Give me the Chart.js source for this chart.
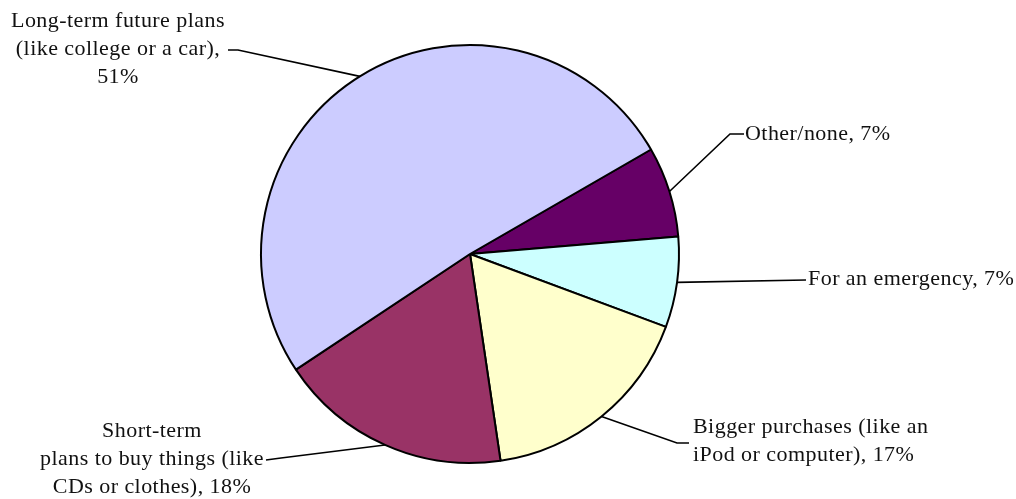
<!DOCTYPE html>
<html>
<head>
<meta charset="utf-8">
<script src="https://cdn.jsdelivr.net/npm/chart.js@4/dist/chart.umd.min.js"></script>
<style>
  html, body { margin: 0; padding: 0; background: #fff; }
  #wrap { width: 1016px; height: 499px; }
</style>
</head>
<body>
<div id="wrap"><canvas id="myChart" width="1016" height="499"></canvas></div>
<script>
// data, clockwise from the Other/none slice
const categories = [
  'Other/none',
  'For an emergency',
  'Bigger purchases (like an\niPod or computer)',
  'Short-term\nplans to buy things (like\nCDs or clothes)',
  'Long-term future plans\n(like college or a car)'
];
const values = [7, 7, 17, 18, 51];
const colors = ['#660066', '#CCFFFF', '#FFFFCC', '#993366', '#CCCCFF'];

// where each label sits and how its leader line bends
const labelLayout = [
  { x: 745, y: 140, align: 'left',   elbow: [730, 134], end: [744, 134] },
  { x: 808, y: 285, align: 'left',   elbow: null,       end: [806, 280] },
  { x: 693, y: 433, align: 'left',   elbow: [677, 443], end: [689, 443] },
  { x: 152, y: 437, align: 'center', elbow: [281, 458], end: [266, 460] },
  { x: 118, y: 27,  align: 'center', elbow: [238, 50],  end: [228, 50], breakValue: true }
];

const lineH = 28;

const pieLabels = {
  id: 'pieLabels',
  afterDraw(chart) {
    const c = chart.ctx;
    const arcs = chart.getDatasetMeta(0).data;
    c.save();
    c.strokeStyle = '#000';
    c.lineWidth = 1.6;
    c.fillStyle = '#111';
    c.font = '22px "Liberation Serif", "Times New Roman", serif';
    c.letterSpacing = '0.45px';
    c.textBaseline = 'alphabetic';
    arcs.forEach((arc, i) => {
      const p = arc.getProps(['x', 'y', 'startAngle', 'endAngle', 'outerRadius'], true);
      const mid = (p.startAngle + p.endAngle) / 2;
      const ax = p.x + Math.cos(mid) * p.outerRadius;
      const ay = p.y + Math.sin(mid) * p.outerRadius;
      const L = labelLayout[i];
      c.beginPath();
      c.moveTo(ax, ay);
      if (L.elbow) c.lineTo(L.elbow[0], L.elbow[1]);
      c.lineTo(L.end[0], L.end[1]);
      c.stroke();

      const txt = categories[i] + ',' + (L.breakValue ? '\n' : ' ') + values[i] + '%';
      c.textAlign = L.align;
      txt.split('\n').forEach((line, k) => {
        c.fillText(line, L.x, L.y + k * lineH);
      });
    });
    c.restore();
  }
};

const ctx = document.getElementById('myChart');

new Chart(ctx, {
  type: 'pie',
  data: {
    labels: categories,
    datasets: [{
      data: values,
      backgroundColor: colors,
      borderColor: '#000',
      borderWidth: 2,
      radius: 209
    }]
  },
  options: {
    responsive: false,
    animation: false,
    rotation: 60,
    layout: { padding: { left: 200, right: 276, top: 20, bottom: 11 } },
    plugins: {
      legend: { display: false },
      tooltip: { enabled: false }
    }
  },
  plugins: [pieLabels]
});
</script>
</body>
</html>
